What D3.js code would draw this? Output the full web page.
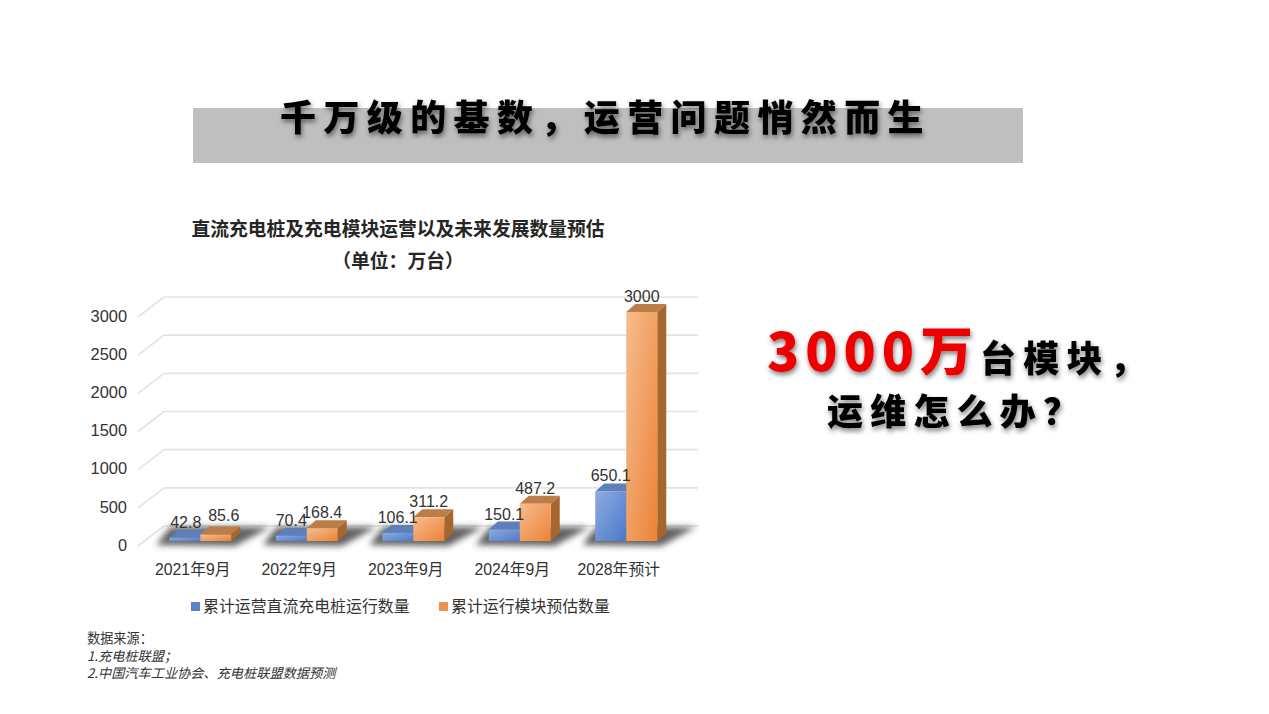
<!DOCTYPE html>
<html>
<head>
<meta charset="utf-8">
<script src="https://cdn.jsdelivr.net/npm/d3@7/dist/d3.min.js"></script>
<style>
	html, body { margin: 0; padding: 0; background: #fff; }
	text { font-family: "Liberation Sans", "Noto Sans CJK SC", sans-serif; }
</style>
</head>
<body>
<script>
const categories = ["2021年9月", "2022年9月", "2023年9月", "2024年9月", "2028年预计"];
const seriesNames = ["累计运营直流充电桩运行数量", "累计运行模块预估数量"];
const pileValues = [42.8, 70.4, 106.1, 150.1, 650.1];
const moduleValues = [85.6, 168.4, 311.2, 487.2, 3000];
const yTicks = [0, 500, 1000, 1500, 2000, 2500, 3000];
const sourceLines = ["数据来源\uFF1A", "1.充电桩联盟\uFF1B", "2.中国汽车工业协会、充电桩联盟数据预测"];

const width = 1269, height = 714;
const cjk = '"Noto Sans CJK SC", sans-serif';

const svg = d3.select("body").append("svg")
	.attr("width", width).attr("height", height)
	.style("display", "block");
const defs = svg.append("defs");

// gradients for bar faces
function addGradient(id, light, dark) {
	const g = defs.append("linearGradient").attr("id", id)
		.attr("x1", "0").attr("y1", "0").attr("x2", "1").attr("y2", "1");
	g.append("stop").attr("offset", "0%").attr("stop-color", light);
	g.append("stop").attr("offset", "100%").attr("stop-color", dark);
}
addGradient("blueFace", "#8fabdf", "#4a79cc");
addGradient("orangeFace", "#f6bd8e", "#ec8237");

defs.append("filter").attr("id", "floorBlur")
	.attr("x", "-20%").attr("y", "-60%").attr("width", "140%").attr("height", "220%")
	.append("feGaussianBlur").attr("stdDeviation", 3);

const textShadow = defs.append("filter").attr("id", "textShadow")
	.attr("x", "-10%").attr("y", "-20%").attr("width", "120%").attr("height", "150%");
textShadow.append("feDropShadow").attr("dx", 1.2).attr("dy", 3)
	.attr("stdDeviation", 2.4).attr("flood-color", "#000").attr("flood-opacity", 0.5);

// headline banner
svg.append("rect").attr("x", 193).attr("y", 108).attr("width", 830).attr("height", 55).attr("fill", "#bfbfbf");
svg.append("text").text("千万级的基数\uFF0C运营问题悄然而生")
	.attr("x", 280).attr("y", 131)
	.style("font-family", cjk).style("font-weight", 900).style("font-size", "36px")
	.style("letter-spacing", "7.4px").attr("fill", "#000")
	.attr("filter", "url(#textShadow)");

// chart title
const titleLines = ["直流充电桩及充电模块运营以及未来发展数量预估", "\uFF08单位\uFF1A万台\uFF09"];
svg.selectAll(".chart-title").data(titleLines).enter().append("text")
	.attr("class", "chart-title")
	.text(d => d)
	.attr("x", 398).attr("y", (d, i) => 236 + i * 32)
	.attr("text-anchor", "middle")
	.style("font-family", cjk).style("font-weight", 700).style("font-size", "18.8px")
	.attr("fill", "#262626");

// scales, y range is the plane the bars stand on
const x = d3.scaleBand().domain(categories).range([147, 679.5]);
const y = d3.scaleLinear().domain([0, 3000]).range([541, 312]);
const barW = 31;
const depthX = 9, depthY = 8;
const wallX0 = 138, wallX1 = 164, wallX2 = 698;
const frontDy = 5, backDy = -15;

// gridlines on side and back wall
const grid = svg.append("g");
grid.selectAll(".back").data(yTicks).enter().append("line")
	.attr("x1", wallX1).attr("x2", wallX2)
	.attr("y1", d => y(d) + backDy).attr("y2", d => y(d) + backDy)
	.attr("stroke", "#e3e3e3").attr("stroke-width", 1.6);
grid.selectAll(".side").data(yTicks).enter().append("line")
	.attr("x1", wallX0).attr("x2", wallX1)
	.attr("y1", d => y(d) + frontDy).attr("y2", d => y(d) + backDy)
	.attr("stroke", "#e3e3e3").attr("stroke-width", 1.6);

// y axis labels
const yAxis = svg.append("g")
	.attr("transform", "translate(127,4)")
	.call(d3.axisLeft(y).tickValues(yTicks).tickSize(0).tickPadding(0).tickFormat(d3.format("d")));
yAxis.select(".domain").remove();
yAxis.selectAll("text")
	.style("font-family", '"Liberation Sans", sans-serif')
	.style("font-size", "16.4px").attr("fill", "#333");

// floor shadows
const floor = svg.append("g");
floor.selectAll("path").data(categories).enter().append("path")
	.attr("d", d => {
		const c = x(d) + x.bandwidth() / 2;
		return d3.line()([[c - 44, 545], [c - 30, 527], [c + 70, 527], [c + 35, 546]]) + "Z";
	})
	.attr("fill", "#3a3a3a").attr("opacity", 0.8)
	.attr("filter", "url(#floorBlur)");

// bars, series drawn left to right so orange covers the blue side
function drawSeries(values, offset, faceId, topColor, sideColor) {
	const g = svg.append("g");
	values.forEach((v, i) => {
		const x0 = x(categories[i]) + x.bandwidth() / 2 + offset * barW;
		const x1 = x0 + barW;
		const yTop = y(v), yBase = y(0);
		g.append("path")
			.attr("d", `M${x1},${yTop}L${x1 + depthX},${yTop - depthY}L${x1 + depthX},${yBase - depthY}L${x1},${yBase}Z`)
			.attr("fill", sideColor);
		g.append("path")
			.attr("d", `M${x0},${yTop}L${x0 + depthX},${yTop - depthY}L${x1 + depthX},${yTop - depthY}L${x1},${yTop}Z`)
			.attr("fill", topColor);
		g.append("rect")
			.attr("x", x0).attr("y", yTop)
			.attr("width", barW).attr("height", yBase - yTop)
			.attr("fill", `url(#${faceId})`);
	});
}
drawSeries(pileValues, -1, "blueFace", "#5f7fb8", "#3f639f");
drawSeries(moduleValues, 0, "orangeFace", "#bd7d49", "#a8662f");

// value labels go on top of everything
function drawLabels(values, offset, firstDx, firstDy) {
	svg.append("g").selectAll("text").data(values).enter().append("text")
		.text(d => d)
		.attr("x", (d, i) => x(categories[i]) + x.bandwidth() / 2 + (offset + 0.5) * barW + (i == 0 ? firstDx : 0))
		.attr("y", (d, i) => y(d) - 10 + (i == 0 ? firstDy : 0))
		.attr("text-anchor", "middle")
		.style("font-size", "16px").attr("fill", "#333");
}
// the first pair would collide, so it is pushed apart
drawLabels(pileValues, -1, 1, 0);
drawLabels(moduleValues, 0, 8, -3);

// category labels
svg.append("g").selectAll("text").data(categories).enter().append("text")
	.text(d => d)
	.attr("x", d => x(d) + x.bandwidth() / 2 - 7.5).attr("y", 575)
	.attr("text-anchor", "middle")
	.style("font-size", "15.8px").attr("fill", "#333");

// legend
const legendX = [191, 439];
const legendColors = ["#5b82cc", "#ee9150"];
const legend = svg.append("g").selectAll("g").data(seriesNames).enter().append("g")
	.attr("transform", (d, i) => `translate(${legendX[i]},0)`);
legend.append("rect").attr("y", 602).attr("width", 9).attr("height", 9)
	.attr("fill", (d, i) => legendColors[i]);
legend.append("text").text(d => d)
	.attr("x", 12).attr("y", 612)
	.style("font-family", cjk).style("font-size", "15.9px").attr("fill", "#333");

// callout on the right
const calloutStyle = sel => sel.style("font-family", cjk).style("font-weight", 900);
calloutStyle(svg.append("text").text("3000万")
	.attr("x", 767).attr("y", 371)
	.style("font-size", "53px").style("letter-spacing", "6px")
	.attr("fill", "#ee0000").attr("filter", "url(#textShadow)"));
calloutStyle(svg.append("text").text("台模块\uFF0C")
	.attr("x", 980).attr("y", 372)
	.style("font-size", "36px").style("letter-spacing", "7.2px")
	.attr("fill", "#000").attr("filter", "url(#textShadow)"));
calloutStyle(svg.append("text").text("运维怎么办\uFF1F")
	.attr("x", 827).attr("y", 425)
	.style("font-size", "36px").style("letter-spacing", "7.2px")
	.attr("fill", "#000").attr("filter", "url(#textShadow)"));

// sources
svg.append("g").selectAll("text").data(sourceLines).enter().append("text")
	.text(d => d)
	.attr("x", 87).attr("y", (d, i) => [643, 661, 678][i])
	.style("font-family", cjk).style("font-size", "13.2px")
	.style("font-style", (d, i) => i ? "italic" : "normal")
	.attr("fill", "#333");
</script>
</body>
</html>
